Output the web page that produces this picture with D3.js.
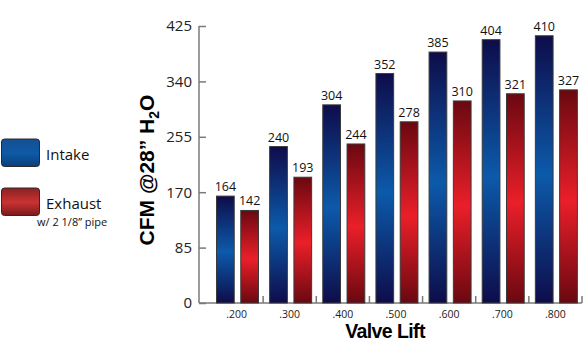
<!DOCTYPE html>
<html><head><meta charset="utf-8">
<script src="https://cdn.jsdelivr.net/npm/d3@7"></script>
<style>body{margin:0;background:#fff}svg{display:block}</style>
</head><body>
<svg id="c" width="586" height="344"></svg>
<script>
const categories = [".200", ".300", ".400", ".500", ".600", ".700", ".800"];
const intake = [164, 240, 304, 352, 385, 404, 410];
const exhaust = [142, 193, 244, 278, 310, 321, 327];
const yTicks = [0, 85, 170, 255, 340, 425];
const seriesNames = ["Intake", "Exhaust"];

const svg = d3.select("#c");
const defs = svg.append("defs");
function grad(id, edge, mid, x2) {
  const g = defs.append("linearGradient").attr("id", id)
    .attr("x1", 0).attr("y1", 0).attr("x2", 0).attr("y2", 1);
  g.append("stop").attr("offset", "0%").attr("stop-color", edge);
  g.append("stop").attr("offset", "52%").attr("stop-color", mid);
  g.append("stop").attr("offset", "100%").attr("stop-color", x2 || edge);
}
grad("gI", "#0e0c4a", "#0c5aaa");
grad("gE", "#6a0810", "#ea1f29");
grad("lI", "#154f92", "#0e5aa6", "#0b3f7c");
grad("lE", "#8a2224", "#c93232", "#7a1a1c");

const y = d3.scaleLinear().domain([0, 425]).range([303, 26]);
const x = d3.scaleBand().domain(categories).range([210, 582]).padding(0);
const xi = d3.scaleBand().domain(seriesNames).range([6.5, 48.5]).paddingInner(0.27);

// y axis
const yAxis = svg.append("g").attr("transform", "translate(199,0)")
  .call(d3.axisRight(y).tickValues(yTicks).tickSize(7).tickFormat(""));
yAxis.select(".domain").attr("d", `M0,${y(425)}V${y(0)}`);
yAxis.selectAll("path,line").attr("stroke", "#7a7a7a").attr("stroke-width", 1.5);
svg.append("g").selectAll("text").data(yTicks).join("text")
  .attr("x", 192).attr("y", d => y(d)).attr("dy", "0.36em")
  .attr("text-anchor", "end").attr("font-family", "Open Sans, Liberation Sans, sans-serif")
  .attr("font-size", 15).attr("fill", "#222").text(d => d);

// x axis
const xAxisG = svg.append("g").attr("transform", "translate(0,303)");
xAxisG.append("line").attr("x1", 199).attr("x2", 582).attr("stroke", "#7a7a7a").attr("stroke-width", 1.5);
xAxisG.selectAll("line.t").data(categories).join("line").attr("class", "t")
  .attr("x1", d => x(d) + x.bandwidth()).attr("x2", d => x(d) + x.bandwidth())
  .attr("y1", 0).attr("y2", -7).attr("stroke", "#7a7a7a").attr("stroke-width", 1.5);
xAxisG.selectAll("text").data(categories).join("text")
  .attr("x", d => x(d) + x.bandwidth() / 2).attr("y", 14.5)
  .attr("text-anchor", "middle").attr("font-family", "Open Sans, Liberation Sans, sans-serif")
  .attr("font-size", 10.5).attr("fill", "#222").text(d => d);

// bars
const rows = categories.map((c, i) => ({c, vals: [{s: "Intake", v: intake[i]}, {s: "Exhaust", v: exhaust[i]}]}));
const g = svg.append("g").selectAll("g").data(rows).join("g")
  .attr("transform", d => `translate(${x(d.c)},0)`);
g.selectAll("rect").data(d => d.vals).join("rect")
  .attr("x", d => xi(d.s)).attr("width", xi.bandwidth())
  .attr("y", d => y(d.v)).attr("height", d => y(0) - y(d.v))
  .attr("fill", d => d.s === "Intake" ? "url(#gI)" : "url(#gE)")
  .attr("stroke", "#3a3a3a").attr("stroke-width", 1);
g.selectAll("text").data(d => d.vals).join("text")
  .attr("x", d => xi(d.s) + xi.bandwidth() / 2).attr("y", d => y(d.v) - 5)
  .attr("text-anchor", "middle").attr("font-family", "Open Sans, Liberation Sans, sans-serif")
  .attr("font-size", 12.5).attr("fill", "#111").text(d => d.v);

// titles
const yt = svg.append("text").attr("transform", "translate(154,170) rotate(-90)")
  .attr("text-anchor", "middle").attr("font-family", "Liberation Sans, Arial, sans-serif")
  .attr("font-weight", "bold").attr("font-size", 21).attr("fill", "#000");
yt.append("tspan").text("CFM @28\u201D H");
yt.append("tspan").attr("font-size", 14).attr("dy", 5).text("2");
yt.append("tspan").attr("dy", -5).text("O");

svg.append("text").attr("x", 385).attr("y", 338).attr("text-anchor", "middle")
  .attr("font-family", "Liberation Sans, Arial, sans-serif").attr("font-weight", "bold")
  .attr("font-size", 19.5).attr("letter-spacing", -0.6).attr("fill", "#000").text("Valve Lift");

// legend
const legendY = [139, 188];
const lg = svg.append("g");
lg.selectAll("rect").data(seriesNames).join("rect")
  .attr("x", 1.5).attr("y", (d, i) => legendY[i]).attr("width", 38).attr("height", 27.5)
  .attr("rx", 3).attr("fill", d => d === "Intake" ? "url(#lI)" : "url(#lE)")
  .attr("stroke", "#2a2a2a").attr("stroke-width", 1);
lg.selectAll("text.n").data(seriesNames).join("text").attr("class", "n")
  .attr("x", 46).attr("y", (d, i) => legendY[i] + 21)
  .attr("font-family", "Open Sans, Liberation Sans, sans-serif").attr("font-size", 15)
  .attr("fill", "#111").text(d => d);
lg.append("text").attr("x", 37).attr("y", 226)
  .attr("font-family", "Open Sans, Liberation Sans, sans-serif").attr("font-size", 11)
  .attr("fill", "#111").text("w/ 2 1/8\u201D pipe");
</script>
</body></html>
